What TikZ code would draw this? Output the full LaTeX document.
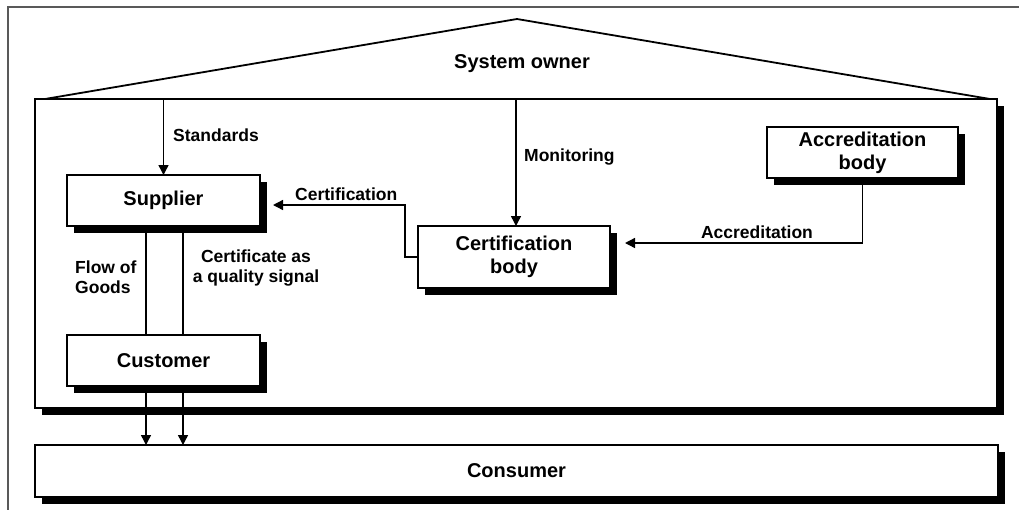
\documentclass[tikz,border=0pt]{standalone}
\usepackage{fontspec}
\setmainfont{Liberation Sans}
\usetikzlibrary{arrows.meta,shadows}
\begin{document}
\begin{tikzpicture}[x=1pt,y=-1pt,
  box/.style={draw=black, line width=1.4pt, fill=white, inner sep=0pt, outer sep=0pt, align=center,
    font=\fontsize{20}{23}\selectfont\bfseries,
    general shadow={fill=black, shadow xshift=7pt, shadow yshift=-7pt}},
  lbl/.style={font=\fontsize{17.5}{20}\selectfont\bfseries, inner sep=0pt},
  conn/.style={line width=1.4pt},
  arr/.style={conn, -{Triangle[length=10pt,width=10pt]}}]
\useasboundingbox (0,0) rectangle (1019,509);
\draw[gray!70!black, line width=1.3pt] (8,540) -- (8,7) -- (1040,7);
% house
\node[box, minimum width=962pt, minimum height=309pt] (house) at (516,253.5) {};
\coordinate (apex) at (517,19);
\draw[conn, line width=1.8pt, line join=miter] ([xshift=10pt]house.north west) -- (apex) -- ([xshift=-7pt]house.north east);
\node[lbl, font=\fontsize{20}{23}\selectfont\bfseries] (owner) at (522,64) {System owner};
% boxes
\node[box, minimum width=193pt, minimum height=51pt] (supplier) at (163.5,200.5) {Supplier};
\node[box, minimum width=193pt, minimum height=51pt] (customer) at (163.5,360.5) {Customer};
\node[box, minimum width=963pt, minimum height=52pt] (consumer) at (516.5,471) {Consumer};
\node[box, minimum width=192pt, minimum height=62pt] (cert) at (514,257) {Certification\\body};
\node[box, minimum width=191pt, minimum height=51pt] (accr) at (862.5,152.5) {Accreditation\\body};
% labels
\node[lbl, anchor=west] (lstd) at (173,135) {Standards};
\node[lbl, anchor=west] (lmon) at (524,157) {Monitoring};
\node[lbl, anchor=west] (lcert) at (295,194) {Certification};
\node[lbl] (lacc) at (757,232) {Accreditation};
\node[lbl, align=left, anchor=west] (lflow) at (75,277) {Flow of\\Goods};
\node[lbl, align=center] (lsig) at (256,268) {Certificate as\\a quality signal};
% connectors
\draw[arr] (supplier.north |- house.north) -- (supplier.north);
\draw[arr] ([xshift=2pt]cert.north |- house.north) -- ([xshift=2pt]cert.north);
\draw[arr] (cert.west) -- ++(-13,0) |- ([shift={(13,4.5)}]supplier.east);
\draw[arr] (accr.south) |- ([shift={(15,-14)}]cert.east);
\draw[conn] ([xshift=-17.5pt]supplier.south) -- ([xshift=-17.5pt]customer.north);
\draw[conn] ([xshift=19.5pt]supplier.south) -- ([xshift=19.5pt]customer.north);
\draw[arr] ([xshift=-17.5pt]customer.south) -- ([xshift=-17.5pt]customer.south |- consumer.north);
\draw[arr] ([xshift=19.5pt]customer.south) -- ([xshift=19.5pt]customer.south |- consumer.north);
\end{tikzpicture}
\end{document}
